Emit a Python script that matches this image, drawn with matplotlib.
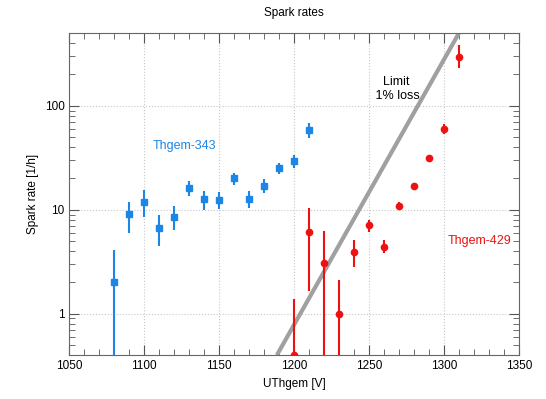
import numpy as np
import matplotlib.pyplot as plt
from matplotlib.ticker import MultipleLocator, LogLocator, NullFormatter, FixedLocator

plt.rcParams['font.family'] = ['Liberation Sans', 'DejaVu Sans']
plt.rcParams['font.size'] = 8.5

# Thgem-343 (blue)
v343 = [1080, 1090, 1100, 1110, 1120, 1130, 1140, 1150, 1160, 1170, 1180, 1190, 1200, 1210]
r343 = [2.0, 9.1, 12.0, 6.7, 8.5, 16.3, 12.7, 12.5, 20.2, 12.6, 17.1, 25.2, 29.6, 58.7]
r343_lo = [0.1, 6.0, 8.5, 4.5, 6.4, 13.7, 10.0, 10.2, 17.4, 10.3, 14.5, 22.2, 25.2, 48.9]
r343_hi = [4.1, 12.0, 15.6, 9.0, 10.8, 19.1, 15.3, 14.8, 22.5, 15.0, 19.8, 28.1, 33.8, 69.0]

# Thgem-429 (red)
v429 = [1200, 1210, 1220, 1230, 1240, 1250, 1260, 1270, 1280, 1290, 1300, 1310]
r429 = [0.4, 6.07, 3.09, 1.0, 3.94, 7.08, 4.4, 10.8, 16.8, 31.4, 59.6, 296]
r429_lo = [0.01, 1.65, 0.01, 0.01, 2.83, 6.12, 3.8, 9.9, 15.6, 29.6, 53.0, 229]
r429_hi = [1.39, 10.5, 6.3, 2.13, 5.08, 8.03, 5.1, 11.8, 18.2, 33.2, 66.5, 384]

# 1% loss limit line
limit_v = [1188.4, 1309.7]
limit_rate = [0.4, 498]

blue = '#1c86e6'
red = '#ee1111'

fig = plt.figure(figsize=(5.46, 3.99), dpi=100)
ax = fig.add_axes([0.127, 0.110, 0.824, 0.807])

ax.plot(limit_v, limit_rate, color='#a0a0a0', lw=3, solid_capstyle='butt', zorder=2)

r = np.array(r343)
ax.errorbar(v343, r343, yerr=[r - np.array(r343_lo), np.array(r343_hi) - r],
            fmt='s', color=blue, ms=4, elinewidth=1.5, capsize=0, zorder=3)
r = np.array(r429)
ax.errorbar(v429, r429, yerr=[r - np.array(r429_lo), np.array(r429_hi) - r],
            fmt='o', color=red, ms=4.5, elinewidth=1.5, capsize=0, zorder=3)

ax.set_yscale('log')
ax.set_xlim(1050, 1350)
ax.set_ylim(0.4, 500)

ax.xaxis.set_major_locator(MultipleLocator(50))
ax.xaxis.set_minor_locator(MultipleLocator(10))
ax.yaxis.set_major_locator(FixedLocator([1, 10, 100]))
ax.yaxis.set_major_formatter(plt.FuncFormatter(lambda y, p: '%g' % y))
ax.yaxis.set_minor_locator(LogLocator(base=10, subs=np.arange(2, 10)))
ax.yaxis.set_minor_formatter(NullFormatter())

ax.tick_params(which='both', direction='in', top=True, right=True, colors='#555555',
               labelcolor='black')
ax.tick_params(which='major', length=7)
ax.tick_params(which='minor', length=4)
for s in ax.spines.values():
    s.set_color('#666666')

ax.grid(True, which='major', ls=':', color='#c8c8c8', lw=0.8)

ax.text(1126.6, 40.6, 'Thgem-343', color=blue, ha='center', va='center', fontsize=9)
ax.text(1302.6, 4.97, 'Thgem-429', color=red, ha='left', va='center', fontsize=9)
ax.text(1268, 145, 'Limit\n 1% loss', color='black', ha='center', va='center', fontsize=9)

ax.set_title('Spark rates', fontsize=8.5, pad=12)
ax.set_xlabel('UThgem [V]')
ax.set_ylabel('Spark rate [1/h]')

fig.savefig('out.png', dpi=100)
